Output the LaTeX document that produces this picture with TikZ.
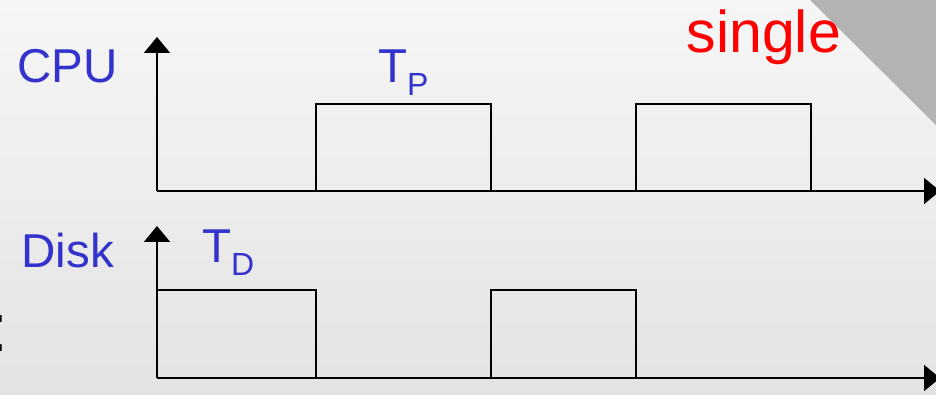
\documentclass[tikz,border=0pt]{standalone}
\usepackage{fontspec}
\setmainfont{Liberation Sans}
\usetikzlibrary{arrows.meta}
\definecolor{lblblue}{RGB}{51,51,204}
\definecolor{cornergray}{RGB}{179,179,179}
\begin{document}
\begin{tikzpicture}[x=1pt,y=-1pt,
  axis/.style={line width=2pt,-{Triangle[length=16pt,width=26pt]}},
  pulse/.style={line width=2pt},
  lbl/.style={inner sep=0pt,anchor=base west,text=lblblue,font=\fontsize{47.5}{47.5}\selectfont}]
  % page and background
  \useasboundingbox (0,0) rectangle (936,395);
  \shade[top color={rgb,255:red,246;green,246;blue,246},bottom color={rgb,255:red,227;green,227;blue,227}] (0,0) rectangle (936,395);
  \fill[cornergray] (810,0) -- (936,0) -- (936,125) -- cycle;

  % origins of the two time axes
  \coordinate (cpuO) at (157,191);
  \coordinate (cpuY) at (157,37);
  \coordinate (cpuX) at (940,191);
  \coordinate (dskO) at (157,378);
  \coordinate (dskY) at (157,226);
  \coordinate (dskX) at (940,378);

  % CPU busy intervals
  \draw[pulse] (316,191) -- (316,104) -- (491,104) -- (491,191);
  \draw[pulse] (636,191) -- (636,104) -- (811,104) -- (811,191);
  % disk busy intervals
  \draw[pulse] (157,290) -- (316,290) -- (316,378);
  \draw[pulse] (491,378) -- (491,290) -- (636,290) -- (636,378);

  % axes
  \draw[axis] (cpuO) -- (cpuY);
  \draw[axis] (cpuO) -- (cpuX);
  \draw[axis] (dskO) -- (dskY);
  \draw[axis] (dskO) -- (dskX);

  % labels
  \node[lbl] (cpu) at (17,82.5) {CPU};
  \node[lbl] (disk) at (21.5,267) {Disk};
  \node[lbl] (tp) at (378,83) {T\raisebox{-13pt}{\fontsize{32}{32}\selectfont P}};
  \node[lbl] (td) at (202,262) {T\raisebox{-13pt}{\fontsize{32}{32}\selectfont D}};
  \node[inner sep=0pt,anchor=base west,text=red,font=\fontsize{59}{59}\selectfont] (single) at (686.5,52.5) {single};
  \node[inner sep=0pt,anchor=base west,text=black,font=\fontsize{68}{68}\selectfont] (colon) at (-11,351) {:};
\end{tikzpicture}
\end{document}
